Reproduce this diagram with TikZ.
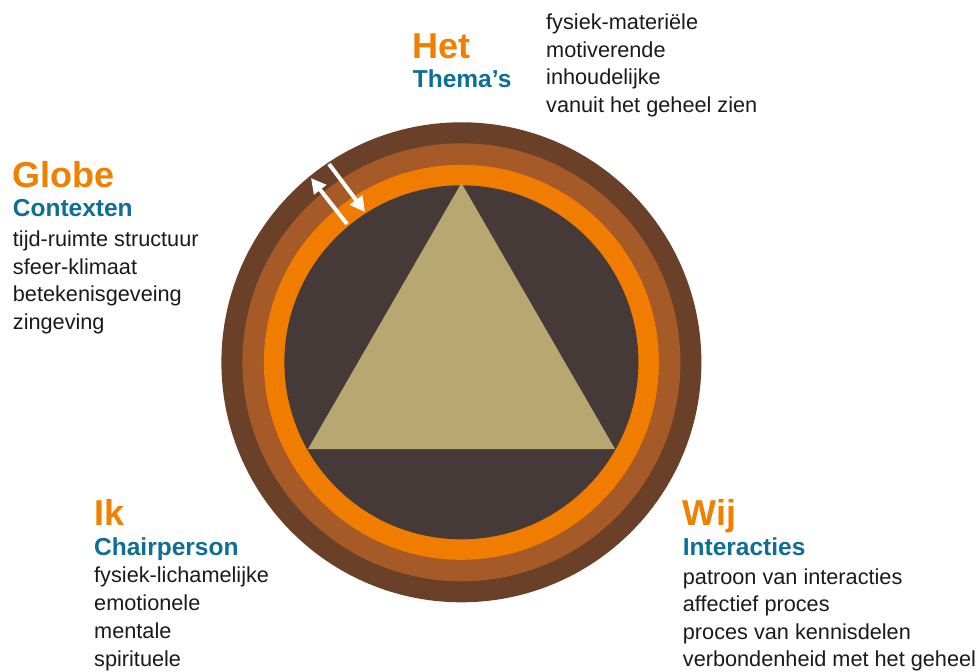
\documentclass[tikz,border=0pt]{standalone}
\usepackage{fontspec}
\setmainfont{Liberation Sans}
\usetikzlibrary{arrows.meta}
\definecolor{ringA}{RGB}{107,64,40}
\definecolor{ringB}{RGB}{166,90,40}
\definecolor{ringC}{RGB}{240,125,0}
\definecolor{core}{RGB}{70,58,57}
\definecolor{tri}{RGB}{184,167,113}
\definecolor{titleor}{RGB}{240,128,0}
\definecolor{subblue}{RGB}{14,110,150}
\definecolor{body}{RGB}{26,26,26}
\begin{document}
\begin{tikzpicture}[x=1pt,y=-1pt,
  titletext/.style={anchor=base west,inner sep=0pt,text=titleor,font=\fontsize{36}{36}\selectfont\bfseries},
  subtext/.style={anchor=base west,inner sep=0pt,text=subblue,font=\fontsize{24.5}{24.5}\selectfont\bfseries},
  itemtext/.style={anchor=base west,inner sep=0pt,text=body,font=\fontsize{21.7}{21.7}\selectfont},
  flowarrow/.style={draw=white,line width=4pt,-{Triangle[width=15pt,length=15pt]}}]
\useasboundingbox (0,0) rectangle (978,672);

% concentric rings
\coordinate (c) at (461.4,362.3);
\fill[ringA] (c) circle[radius=240pt];
\fill[ringB] (c) circle[radius=219pt];
\fill[ringC] (c) circle[radius=197.5pt];
\fill[core]  (c) circle[radius=177pt];

% central triangle
\fill[tri] (461.4,183) -- (615,449) -- (308,449) -- cycle;

% in/out arrows across the rings
\coordinate (outS) at (347,224);
\coordinate (outE) at (311,178);
\coordinate (inS) at (329,164);
\coordinate (inE) at (365,212);
\draw[flowarrow] (outS) -- (outE);
\draw[flowarrow] (inS) -- (inE);

% Het
\node[titletext] (het) at (412.7,58.3) {Het};
\node[subtext] (hetsub) at (412.7,87.7) {Thema’s};
\foreach \t [count=\i from 0] in {fysiek-materiële,motiverende,inhoudelijke,vanuit het geheel zien}
  \node[itemtext] (het\i) at (546,29.3+27.7*\i) {\t};

% Globe
\node[titletext] (globe) at (12.7,187.3) {Globe};
\node[subtext] (globesub) at (12.7,216.7) {Contexten};
\foreach \t [count=\i from 0] in {tijd-ruimte structuur,sfeer-klimaat,betekenisgeveing,zingeving}
  \node[itemtext] (globe\i) at (12.7,246.7+27.6*\i) {\t};

% Ik
\node[titletext] (ik) at (94,525) {Ik};
\node[subtext] (iksub) at (94,555) {Chairperson};
\foreach \t [count=\i from 0] in {fysiek-lichamelijke,emotionele,mentale,spirituele}
  \node[itemtext] (ik\i) at (94,582.7+27.8*\i) {\t};

% Wij
\node[titletext] (wij) at (682.7,525) {Wij};
\node[subtext] (wijsub) at (682.7,555.7) {Interacties};
\foreach \t [count=\i from 0] in {patroon van interacties,affectief proces,proces van kennisdelen,verbondenheid met het geheel}
  \node[itemtext] (wij\i) at (682.7,584+27.6*\i) {\t};
\end{tikzpicture}
\end{document}
